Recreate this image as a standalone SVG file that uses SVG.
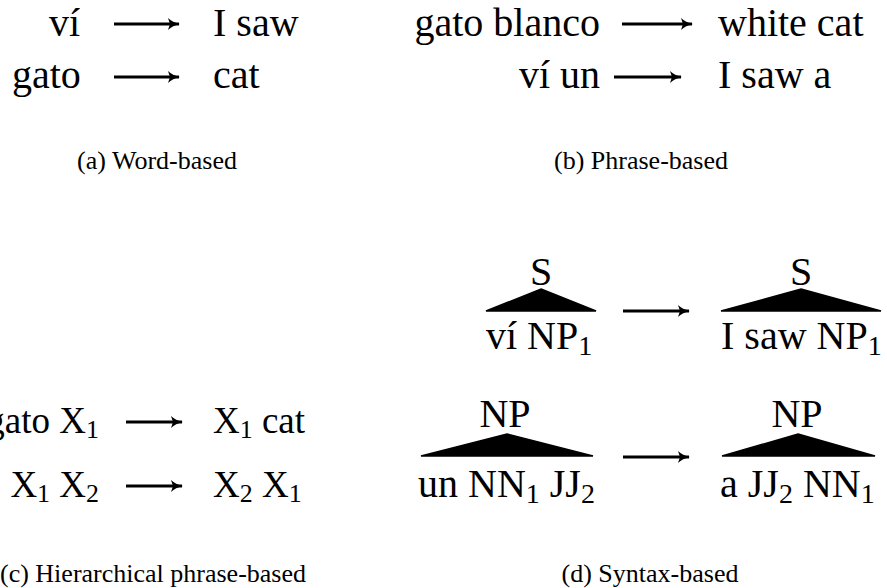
<svg xmlns="http://www.w3.org/2000/svg" width="887" height="588" viewBox="0 0 887 588">
  <defs>
    <!-- long right arrow head, TeX style -->
    <marker id="head" markerUnits="userSpaceOnUse" markerWidth="16" markerHeight="16" viewBox="-14 -8 16 16" refX="0" refY="0" orient="auto" overflow="visible">
      <path d="M1,0 C-4,-1 -8,-3 -11,-6 L-9,0 L-11,6 C-8,3 -4,1 1,0 Z" fill="#000"/>
    </marker>
    <style>
      .t { font-family: "Liberation Serif", "Times New Roman", serif; font-size: 40px; fill: #000; }
      .tc { font-family: "Liberation Serif", "Times New Roman", serif; font-size: 37px; fill: #000; }
      .cap { font-family: "Liberation Serif", "Times New Roman", serif; font-size: 26px; fill: #000; text-anchor: middle; }
      .mid { text-anchor: middle; }
      .end { text-anchor: end; }
      .sub { font-size: 0.7em; }
      .arr { stroke: #000; stroke-width: 3; fill: none; marker-end: url(#head); }
      .tri { fill: #000; stroke: #000; stroke-width: 1.5; stroke-linejoin: miter; }
    </style>
  </defs>

  <!-- connectors -->
  <g id="connectors">
    <!-- (a) word-based -->
    <line class="arr" x1="114" y1="24" x2="179" y2="24"/>
    <line class="arr" x1="114" y1="77" x2="179" y2="77"/>
    <!-- (b) phrase-based -->
    <line class="arr" x1="622" y1="24" x2="692" y2="24"/>
    <line class="arr" x1="614" y1="77" x2="681" y2="77"/>
    <!-- (c) hierarchical -->
    <line class="arr" x1="126" y1="422" x2="182" y2="422"/>
    <line class="arr" x1="126" y1="486" x2="182" y2="486"/>
    <!-- (d) syntax-based -->
    <line class="arr" x1="623" y1="311" x2="689" y2="311"/>
    <line class="arr" x1="623" y1="457" x2="689" y2="457"/>
  </g>

  <!-- (a) Word-based -->
  <g id="word-src-1"><text class="t" x="49" y="36">ví</text></g>
  <g id="word-tgt-1"><text class="t" x="213" y="36">I saw</text></g>
  <g id="word-src-2"><text class="t" x="12" y="88">gato</text></g>
  <g id="word-tgt-2"><text class="t" x="213" y="88">cat</text></g>
  <text class="cap" x="157" y="169">(a) Word-based</text>

  <!-- (b) Phrase-based -->
  <g id="phrase-src-1"><text class="t end" x="600" y="36">gato blanco</text></g>
  <g id="phrase-tgt-1"><text class="t" x="718" y="36">white cat</text></g>
  <g id="phrase-src-2"><text class="t end" x="600" y="88">ví un</text></g>
  <g id="phrase-tgt-2"><text class="t" x="718" y="88">I saw a</text></g>
  <text class="cap" x="641" y="169">(b) Phrase-based</text>

  <!-- (c) Hierarchical phrase-based -->
  <g id="hier-src-1"><text class="tc end" x="99" y="433">gato X<tspan class="sub" dy="5">1</tspan></text></g>
  <g id="hier-tgt-1"><text class="tc" x="213" y="433">X<tspan class="sub" dy="5">1</tspan><tspan dy="-5"> cat</tspan></text></g>
  <g id="hier-src-2"><text class="tc end" x="99" y="497">X<tspan class="sub" dy="5">1</tspan><tspan dy="-5"> X</tspan><tspan class="sub" dy="5">2</tspan></text></g>
  <g id="hier-tgt-2"><text class="tc" x="213" y="497">X<tspan class="sub" dy="5">2</tspan><tspan dy="-5"> X</tspan><tspan class="sub" dy="5">1</tspan></text></g>
  <text class="cap" x="153" y="582">(c) Hierarchical phrase-based</text>

  <!-- (d) Syntax-based -->
  <g id="syn-src-1">
    <text class="t mid" x="541" y="285">S</text>
    <polygon class="tri" points="541,289 596,311 486,311"/>
    <text class="t" x="486" y="349">ví NP<tspan class="sub" dy="6">1</tspan></text>
  </g>
  <g id="syn-tgt-1">
    <text class="t mid" x="801" y="285">S</text>
    <polygon class="tri" points="801,289 881,311 721,311"/>
    <text class="t" x="721" y="349">I saw NP<tspan class="sub" dy="6">1</tspan></text>
  </g>
  <g id="syn-src-2">
    <text class="t mid" x="505" y="427">NP</text>
    <polygon class="tri" points="507,434 593,456 421,456"/>
    <text class="t" x="418" y="497">un NN<tspan class="sub" dy="6">1</tspan><tspan dy="-6"> JJ</tspan><tspan class="sub" dy="6">2</tspan></text>
  </g>
  <g id="syn-tgt-2">
    <text class="t mid" x="797" y="427">NP</text>
    <polygon class="tri" points="798,434 875,456 722,456"/>
    <text class="t" x="720" y="497">a JJ<tspan class="sub" dy="6">2</tspan><tspan dy="-6"> NN</tspan><tspan class="sub" dy="6">1</tspan></text>
  </g>
  <text class="cap" x="650" y="582">(d) Syntax-based</text>
</svg>
